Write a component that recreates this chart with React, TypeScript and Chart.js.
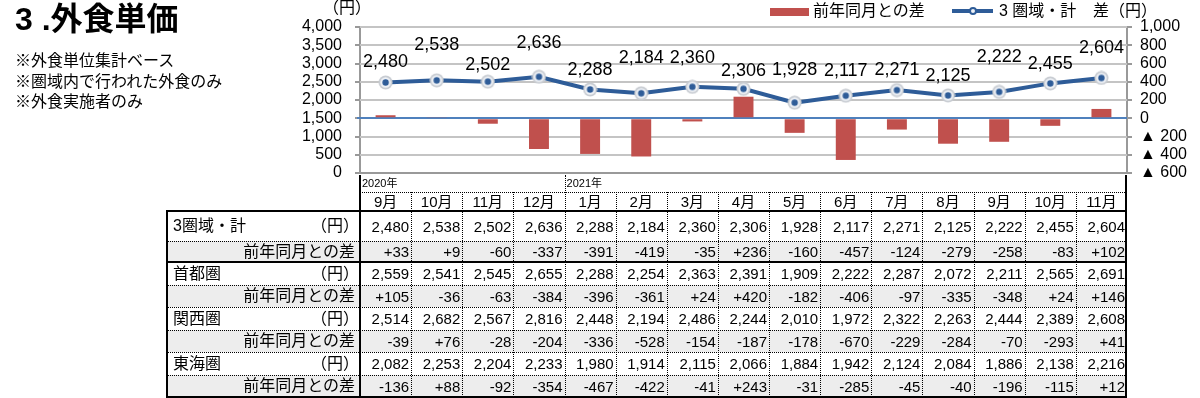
import React, { useEffect, useRef } from 'react';
import { Chart, registerables } from 'chart.js';

Chart.register(...registerables);

// ---------- data ----------
const months = ['9月', '10月', '11月', '12月', '1月', '2月', '3月', '4月', '5月', '6月', '7月', '8月', '9月', '10月', '11月'];
const years = ['2020年', '', '', '', '2021年', '', '', '', '', '', '', '', '', '', ''];

const total = [2480, 2538, 2502, 2636, 2288, 2184, 2360, 2306, 1928, 2117, 2271, 2125, 2222, 2455, 2604];
const totalDiff = [33, 9, -60, -337, -391, -419, -35, 236, -160, -457, -124, -279, -258, -83, 102];
const shutoken = [2559, 2541, 2545, 2655, 2288, 2254, 2363, 2391, 1909, 2222, 2287, 2072, 2211, 2565, 2691];
const shutokenDiff = [105, -36, -63, -384, -396, -361, 24, 420, -182, -406, -97, -335, -348, 24, 146];
const kansai = [2514, 2682, 2567, 2816, 2448, 2194, 2486, 2244, 2010, 1972, 2322, 2263, 2444, 2389, 2608];
const kansaiDiff = [-39, 76, -28, -204, -336, -528, -154, -187, -178, -670, -229, -284, -70, -293, 41];
const tokai = [2082, 2253, 2204, 2233, 1980, 1914, 2115, 2066, 1884, 1942, 2124, 2084, 1886, 2138, 2216];
const tokaiDiff = [-136, 88, -92, -354, -467, -422, -41, 243, -31, -285, -45, -40, -196, -115, 12];

const leftTicksMax = 4000;
const rightTicksMin = -600;
const rightTicksMax = 1000;

// label vertical offsets (px, style only)
const labelOffsets = [-20, -35, -17, -34, -19, -35, -29, -18, -33, -25, -20, -19, -35, -19, -30];

// ---------- style ----------
const FONT = '"Liberation Sans", "Noto Sans CJK JP", sans-serif';
const PLOT_LEFT = 360;
const PLOT_RIGHT = 1127;
const PLOT_TOP = 27;
const PLOT_BOTTOM = 173;
const LINE_COLOR = '#2E5C98';
const BAR_COLOR = '#C0504D';
const AXIS_COLOR = '#999999';
const GRID_COLOR = '#C4C4C4';
const ZERO_COLOR = '#4F81BD';

const fmt = (v: number) => v.toLocaleString('en-US');
const fmtDiff = (v: number) => (v > 0 ? '+' + v : String(v));

function makeMarker(): HTMLCanvasElement {
  const c = document.createElement('canvas');
  c.width = 15;
  c.height = 15;
  const g = c.getContext('2d')!;
  g.beginPath();
  g.arc(7.5, 7.5, 7, 0, Math.PI * 2);
  g.fillStyle = '#C8CCD2';
  g.fill();
  g.beginPath();
  g.arc(7.5, 7.5, 5.3, 0, Math.PI * 2);
  g.fillStyle = '#EEF1F6';
  g.fill();
  g.beginPath();
  g.arc(7.5, 7.5, 3.2, 0, Math.PI * 2);
  g.fillStyle = LINE_COLOR;
  g.fill();
  return c;
}

const rowsData = [
  { name: '3圏域・計', values: total, diffs: totalDiff },
  { name: '首都圏', values: shutoken, diffs: shutokenDiff },
  { name: '関西圏', values: kansai, diffs: kansaiDiff },
  { name: '東海圏', values: tokai, diffs: tokaiDiff },
];

const TABLE_LEFT = 167;
const YEAR_TOP = 175;
const MONTH_TOP = 192;
const DATA_TOP = 211;
const rowBounds = [211, 241, 262, 285, 307, 330, 352, 375, 397];

function Table() {
  const colW = (PLOT_RIGHT - PLOT_LEFT) / months.length;
  const els: React.ReactNode[] = [];
  let k = 0;
  const abs = (style: React.CSSProperties, children?: React.ReactNode) =>
    els.push(
      <div key={k++} style={{ position: 'absolute', boxSizing: 'border-box', ...style }}>
        {children}
      </div>
    );

  for (let r = 0; r < 8; r++) {
    if (r % 2 === 1) {
      abs({ left: TABLE_LEFT, top: rowBounds[r], width: PLOT_RIGHT - TABLE_LEFT, height: rowBounds[r + 1] - rowBounds[r], background: '#EDEDED' });
    }
  }
  abs({ left: PLOT_LEFT, top: MONTH_TOP, width: PLOT_RIGHT - PLOT_LEFT, height: 0, borderTop: '1px dotted #000' });
  [1, 3, 4, 5, 6, 7].forEach((r) =>
    abs({ left: TABLE_LEFT, top: rowBounds[r], width: PLOT_RIGHT - TABLE_LEFT, height: 0, borderTop: '1px dotted #000' })
  );
  for (let i = 1; i < months.length; i++) {
    const x = Math.round(PLOT_LEFT + i * colW);
    const top = years[i] ? YEAR_TOP : MONTH_TOP;
    abs({ left: x, top, width: 0, height: 397 - top, borderLeft: '1px dotted #000' });
  }
  abs({ left: TABLE_LEFT, top: DATA_TOP - 1, width: PLOT_RIGHT - TABLE_LEFT, height: 2, background: '#000' });
  abs({ left: TABLE_LEFT, top: rowBounds[2] - 1, width: PLOT_RIGHT - TABLE_LEFT, height: 2, background: '#000' });
  abs({ left: TABLE_LEFT, top: 396, width: PLOT_RIGHT - TABLE_LEFT, height: 2, background: '#000' });
  abs({ left: TABLE_LEFT - 1, top: DATA_TOP - 1, width: 2, height: 398 - DATA_TOP + 1, background: '#000' });
  abs({ left: PLOT_LEFT - 1, top: YEAR_TOP, width: 2, height: 398 - YEAR_TOP, background: '#000' });
  abs({ left: PLOT_RIGHT - 2, top: YEAR_TOP, width: 2, height: 398 - YEAR_TOP, background: '#000' });

  years.forEach((y, i) => {
    if (!y) return;
    abs({ left: PLOT_LEFT + i * colW + 2, top: YEAR_TOP, height: MONTH_TOP - YEAR_TOP, display: 'flex', alignItems: 'center', fontSize: 11, lineHeight: 1, whiteSpace: 'nowrap' }, y);
  });
  months.forEach((m, i) => {
    abs({ left: PLOT_LEFT + i * colW, top: MONTH_TOP, width: colW, height: DATA_TOP - MONTH_TOP, display: 'flex', alignItems: 'center', justifyContent: 'center', fontSize: 15, lineHeight: 1 }, m);
  });
  rowsData.forEach((rd, g) => {
    const rv = g * 2;
    const rdf = g * 2 + 1;
    const cellStyle = (r: number): React.CSSProperties => ({
      top: rowBounds[r],
      height: rowBounds[r + 1] - rowBounds[r],
      display: 'flex',
      alignItems: 'center',
      lineHeight: 1,
      whiteSpace: 'nowrap',
    });
    abs({ ...cellStyle(rv), left: TABLE_LEFT + 6, fontSize: 16 }, rd.name);
    abs({ ...cellStyle(rv), left: TABLE_LEFT, width: PLOT_LEFT - TABLE_LEFT - 1, justifyContent: 'flex-end', fontSize: 16 }, '（円）');
    abs({ ...cellStyle(rdf), left: TABLE_LEFT, width: PLOT_LEFT - TABLE_LEFT - 5, justifyContent: 'flex-end', fontSize: 16 }, '前年同月との差');
    rd.values.forEach((v, i) => {
      abs({ ...cellStyle(rv), left: PLOT_LEFT + i * colW, width: colW, justifyContent: 'flex-end', paddingRight: 2, fontSize: 15 }, fmt(v));
    });
    rd.diffs.forEach((v, i) => {
      abs({ ...cellStyle(rdf), left: PLOT_LEFT + i * colW, width: colW, justifyContent: 'flex-end', paddingRight: 2, fontSize: 15 }, fmtDiff(v));
    });
  });
  return <>{els}</>;
}

const CANVAS_H = 200;

export default function App() {
  const ref = useRef<HTMLCanvasElement>(null);

  useEffect(() => {
    if (!ref.current) return;
    const marker = makeMarker();
    const gridPlugin = {
      id: 'gridAndZero',
      beforeDatasetsDraw(chart: any) {
        const { ctx, chartArea, scales } = chart;
        ctx.save();
        ctx.globalAlpha = 1;
        ctx.setLineDash([]);
        ctx.lineWidth = 2;
        ctx.strokeStyle = GRID_COLOR;
        scales.y.ticks.forEach((t: any) => {
          const y = Math.round(scales.y.getPixelForValue(t.value));
          if (y >= chartArea.bottom - 1) return;
          ctx.beginPath();
          ctx.moveTo(chartArea.left, y);
          ctx.lineTo(chartArea.right, y);
          ctx.stroke();
        });
        ctx.strokeStyle = AXIS_COLOR;
        ctx.beginPath();
        ctx.moveTo(chartArea.left - 5, Math.round(chartArea.bottom));
        ctx.lineTo(chartArea.right + 5, Math.round(chartArea.bottom));
        ctx.stroke();
        const y0 = Math.round(scales.y1.getPixelForValue(0));
        ctx.strokeStyle = ZERO_COLOR;
        ctx.beginPath();
        ctx.moveTo(chartArea.left - 3, y0);
        ctx.lineTo(chartArea.right, y0);
        ctx.stroke();
        ctx.restore();
      },
    };
    const labelPlugin = {
      id: 'pointLabels',
      afterDatasetsDraw(chart: any) {
        const meta = chart.getDatasetMeta(0);
        const ctx = chart.ctx;
        ctx.save();
        ctx.font = `18px ${FONT}`;
        ctx.fillStyle = '#000';
        ctx.textAlign = 'center';
        ctx.textBaseline = 'middle';
        meta.data.forEach((pt: any, i: number) => {
          ctx.fillText(fmt(total[i]), pt.x, pt.y + labelOffsets[i]);
        });
        ctx.restore();
      },
    };

    const chart = new Chart(ref.current, {
      type: 'bar',
      data: {
        labels: months,
        datasets: [
          {
            type: 'line',
            label: '3 圏域・計',
            data: total,
            yAxisID: 'y',
            borderColor: LINE_COLOR,
            backgroundColor: LINE_COLOR,
            borderWidth: 4,
            pointStyle: marker as any,
            pointRadius: 7,
            tension: 0,
            fill: false,
            order: 0,
          } as any,
          {
            type: 'bar',
            label: '前年同月との差',
            data: totalDiff,
            yAxisID: 'y1',
            backgroundColor: BAR_COLOR,
            barPercentage: 0.39,
            categoryPercentage: 1,
            order: 1,
          } as any,
        ],
      },
      options: {
        responsive: false,
        maintainAspectRatio: false,
        animation: false,
        devicePixelRatio: 1,
        layout: { padding: { top: PLOT_TOP, bottom: CANVAS_H - PLOT_BOTTOM, left: 0, right: 0 } },
        plugins: { legend: { display: false }, tooltip: { enabled: false }, title: { display: false } },
        scales: {
          x: {
            ticks: { display: false },
            grid: { display: false, drawTicks: false },
            border: { display: true, color: AXIS_COLOR, width: 2 },
            afterFit: (s: any) => {
              s.height = 0;
            },
          },
          y: {
            position: 'left',
            min: 0,
            max: leftTicksMax,
            ticks: {
              stepSize: 500,
              autoSkip: false,
              color: '#000',
              padding: 13,
              font: { size: 16, family: FONT },
              callback: (v: any) => fmt(Number(v)),
            },
            grid: {
              display: true,
              drawOnChartArea: true,
              color: GRID_COLOR,
              tickColor: AXIS_COLOR,
              lineWidth: 2,
              tickLength: 5,
            },
            border: { display: true, color: AXIS_COLOR, width: 2 },
            afterFit: (s: any) => {
              s.width = PLOT_LEFT;
            },
          },
          y1: {
            position: 'right',
            min: rightTicksMin,
            max: rightTicksMax,
            ticks: {
              stepSize: 200,
              autoSkip: false,
              color: '#000',
              padding: 8,
              font: { size: 16, family: FONT },
              callback: (v: any) => {
                const n = Number(v);
                return n < 0 ? '▲ ' + Math.abs(n) : fmt(n);
              },
            },
            grid: { drawOnChartArea: false, color: AXIS_COLOR, lineWidth: 2, tickLength: 5 },
            border: { display: true, color: AXIS_COLOR, width: 2 },
            afterFit: (s: any) => {
              s.width = 1200 - PLOT_RIGHT;
            },
          },
        },
      } as any,
      plugins: [gridPlugin, labelPlugin],
    });
    return () => chart.destroy();
  }, []);

  const text: React.CSSProperties = { position: 'absolute', whiteSpace: 'nowrap', lineHeight: '20px', fontSize: 16 };

  return (
    <div style={{ position: 'absolute', left: 0, top: 0, width: 1200, height: 398, fontFamily: FONT, color: '#000', background: '#fff', overflow: 'hidden' }}>
      <canvas ref={ref} width={1200} height={CANVAS_H} style={{ position: 'absolute', left: 0, top: 0, width: 1200, height: CANVAS_H, display: 'block' }} />
      <div style={{ position: 'absolute', left: 15, top: 3, fontSize: 32, fontWeight: 'bold', lineHeight: '32px', whiteSpace: 'nowrap' }}>3 .外食単価</div>
      <div style={{ ...text, left: 15, top: 51 }}>※外食単位集計ベース</div>
      <div style={{ ...text, left: 15, top: 72 }}>※圏域内で行われた外食のみ</div>
      <div style={{ ...text, left: 15, top: 92 }}>※外食実施者のみ</div>
      <div style={{ ...text, left: 323, top: -2 }}>（円）</div>
      <div style={{ ...text, left: 1093, top: 1 }}>差（円）</div>
      <div style={{ position: 'absolute', left: 770, top: 8, width: 39, height: 8, background: BAR_COLOR }} />
      <div style={{ ...text, left: 813, top: 1 }}>前年同月との差</div>
      <div style={{ position: 'absolute', left: 952, top: 9, width: 41, height: 4, background: LINE_COLOR }} />
      <div style={{ position: 'absolute', left: 969, top: 7, width: 8, height: 8, borderRadius: 4, background: '#EEF1F6', boxSizing: 'border-box', border: `2.5px solid ${LINE_COLOR}` }} />
      <div style={{ ...text, left: 999, top: 1 }}>3 圏域・計</div>
      <Table />
    </div>
  );
}
